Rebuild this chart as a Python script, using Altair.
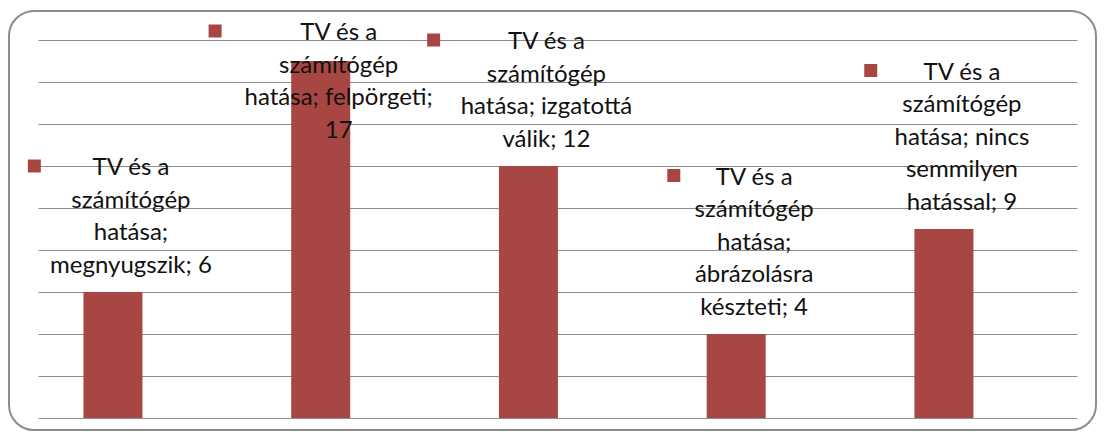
import altair as alt
import pandas as pd

# ---- data ----
series_name = "TV és a számítógép hatása"
categories = ["megnyugszik", "felpörgeti", "izgatottá válik",
              "ábrázolásra készteti", "nincs semmilyen hatással"]
values = [6, 17, 12, 4, 9]
label_lines = [
    ["TV és a", "számítógép", "hatása;", "megnyugszik; 6"],
    ["TV és a", "számítógép", "hatása; felpörgeti;", "17"],
    ["TV és a", "számítógép", "hatása; izgatottá", "válik; 12"],
    ["TV és a", "számítógép", "hatása;", "ábrázolásra", "készteti; 4"],
    ["TV és a", "számítógép", "hatása; nincs", "semmilyen", "hatással; 9"],
]
y_ticks = list(range(0, 19, 2))

# ---- styles ----
BAR = "#A84644"
GRID = "#8c8c8c"
FONT = "Lato"
FS = 24
LH = 32.5
CHAR_W = 10.8
W, H = 1039, 378
PX_PER_UNIT = H / 18.0

df = pd.DataFrame({
    "category": categories,
    "value": values,
    "label": ["\n".join(l) for l in label_lines],
    "nlines": [len(l) for l in label_lines],
    "maxchars": [max(len(s) for s in l) for l in label_lines],
})

xscale = alt.Scale(paddingInner=0.716, paddingOuter=0.3586, align=0.305,
                   round=False)
yscale = alt.Scale(domain=[0, 18], nice=False, zero=True)
yaxis = alt.Axis(values=y_ticks, grid=True, labels=False, ticks=False,
                 domain=False, title=None, gridColor=GRID, gridWidth=1,
                 gridOpacity=1)

base = alt.Chart(df).transform_calculate(
    fb=f"min(datum.value + ({LH}*datum.nlines - 13)/{PX_PER_UNIT}, 18)",
    keydx=f"18 - datum.maxchars*{CHAR_W}/2 - 21",
)

xenc = alt.X("category:N", sort=categories, scale=xscale, axis=None)

bars = base.mark_bar(color=BAR).encode(
    x=xenc,
    y=alt.Y("value:Q", scale=yscale, axis=yaxis),
)

keys = base.mark_square(size=169, color=BAR, opacity=1, filled=True,
                        xOffset=alt.ExprRef("datum.keydx"), yOffset=-9).encode(
    x=xenc,
    y=alt.Y("fb:Q", scale=yscale, axis=yaxis),
)

labels = base.mark_text(align="center", baseline="alphabetic", dx=18,
                        lineBreak="\n", fontSize=FS, font=FONT, lineHeight=LH,
                        color="#111111").encode(
    x=xenc,
    y=alt.Y("fb:Q", scale=yscale, axis=yaxis),
    text="label:N",
)

frame = alt.Chart(pd.DataFrame({"f": [0]})).mark_rect(
    fillOpacity=0, stroke=GRID, strokeWidth=2, cornerRadius=25
).encode(
    x=alt.value(-29), x2=alt.value(1058), y=alt.value(-29), y2=alt.value(390)
)

chart = alt.layer(bars, keys, labels, frame).properties(
    width=W, height=H,
    autosize=alt.AutoSizeParams(type="none"),
    padding={"left": 30, "top": 32, "right": 20, "bottom": 13},
    background="white",
).configure_view(strokeWidth=0)

chart.save("out.html", embed_options={"renderer": "svg", "actions": False})
